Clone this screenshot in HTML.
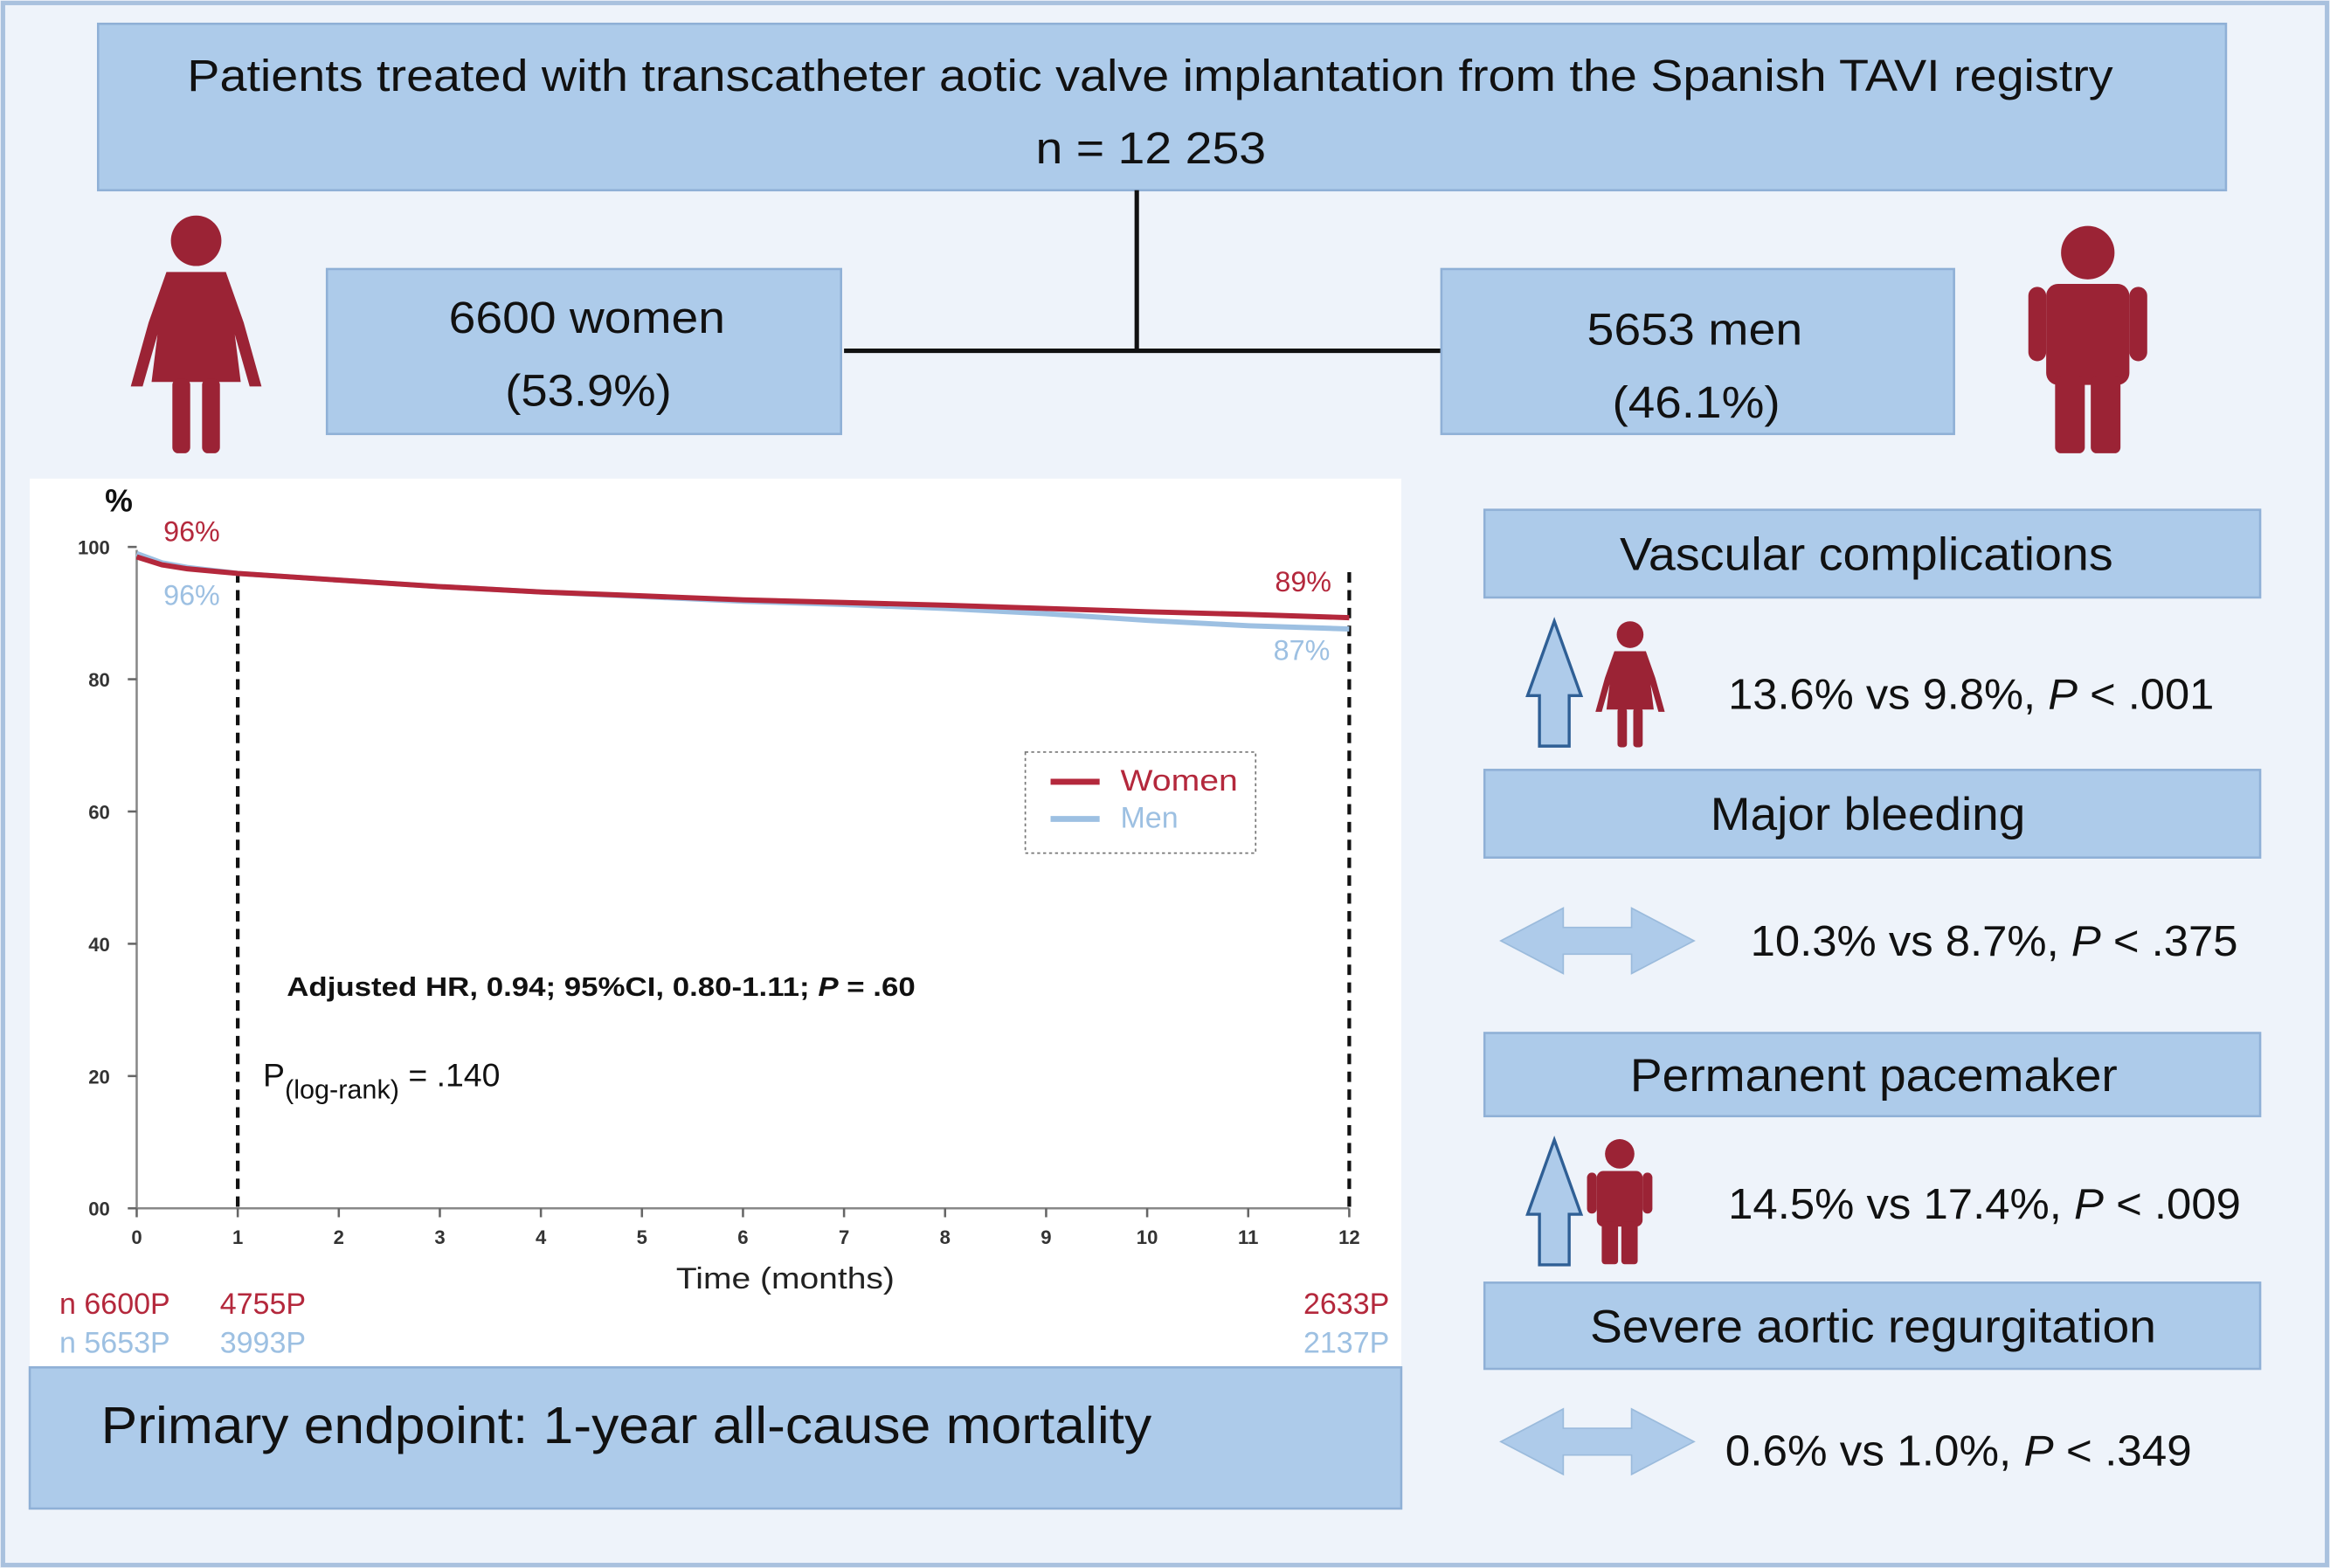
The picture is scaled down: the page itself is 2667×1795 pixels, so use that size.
<!DOCTYPE html>
<html><head><meta charset="utf-8"><style>
html,body{margin:0;padding:0;background:#eef3fa}
svg{display:block;font-family:"Liberation Sans",Arial,sans-serif}
</style></head><body>
<svg id="root" width="2667" height="1795" viewBox="0 0 1568 1055" preserveAspectRatio="none" xmlns="http://www.w3.org/2000/svg">
<rect x="0" y="0" width="1568" height="1055" fill="#eef3fa"/>
<rect x="2" y="2" width="1564" height="1051" fill="none" stroke="#a9c1de" stroke-width="3"/>
<g>
<rect x="66" y="16" width="1432" height="112" fill="#adcbea" stroke="#8fb0d6" stroke-width="1.5"/>
<text x="126" y="61" font-size="30" fill="#111" textLength="1296" lengthAdjust="spacingAndGlyphs">Patients treated with transcatheter aotic valve implantation from the Spanish TAVI registry</text>
<text x="697" y="110" font-size="30" fill="#111" textLength="155" lengthAdjust="spacingAndGlyphs">n = 12 253</text>
</g>
<g stroke="#111" stroke-width="3">
<line x1="765" y1="128" x2="765" y2="236"/><line x1="568" y1="236" x2="970" y2="236"/>
</g>
<g>
<rect x="220" y="181" width="346" height="111" fill="#adcbea" stroke="#8fb0d6" stroke-width="1.5"/>
<text x="302" y="224" font-size="30" fill="#111" textLength="186" lengthAdjust="spacingAndGlyphs">6600 women</text>
<text x="340" y="273" font-size="30" fill="#111" textLength="112" lengthAdjust="spacingAndGlyphs">(53.9%)</text>
</g>
<g>
<rect x="970" y="181" width="345" height="111" fill="#adcbea" stroke="#8fb0d6" stroke-width="1.5"/>
<text x="1068" y="232" font-size="30" fill="#111" textLength="145" lengthAdjust="spacingAndGlyphs">5653 men</text>
<text x="1085" y="281" font-size="30" fill="#111" textLength="113" lengthAdjust="spacingAndGlyphs">(46.1%)</text>
</g>
<g id="icons"></g>
<rect x="20" y="322" width="923" height="600" fill="#ffffff"/>
<g id="chart"></g>
<g>
<rect x="20" y="920" width="923" height="95" fill="#adcbea" stroke="#8fb0d6" stroke-width="1.5"/>
<text x="68" y="971" font-size="35" fill="#111" textLength="707" lengthAdjust="spacingAndGlyphs">Primary endpoint: 1-year all-cause mortality</text>
</g>
<g id="right"></g>
</svg>
<script>
const NS='http://www.w3.org/2000/svg';
function mk(tag,attrs,parent){const e=document.createElementNS(NS,tag);for(const k in attrs)e.setAttribute(k,attrs[k]);parent.appendChild(e);return e;}
// chart data
const months=[0,0.25,0.5,1,2,3,4,5,6,7,8,9,10,11,12];
const women=[98.5,97.3,96.7,96,95,94,93.2,92.6,92,91.6,91.2,90.7,90.2,89.8,89.3];
const men=[99,97.6,96.9,96,95,94,93.2,92.5,91.8,91.3,90.7,89.9,88.9,88.1,87.6];
const yTicks=[0,20,40,60,80,100];
const yTickLabels=['00','20','40','60','80','100'];
const xTicks=[0,1,2,3,4,5,6,7,8,9,10,11,12];
const atRiskWomen=['n 6600P','4755P','2633P'];
const atRiskMen=['n 5653P','3993P','2137P'];
const X=m=>92+m*(908-92)/12, Y=v=>813-v*(813-368)/100;
const ch=document.getElementById('chart');
let e;
e=mk('line',{x1:X(0),y1:Y(0),x2:X(0),y2:Y(100)+2,stroke:'#888','stroke-width':1.5},ch);

e=mk('line',{x1:X(0),y1:Y(0),x2:X(12),y2:Y(0),stroke:'#888','stroke-width':1.5},ch);

yTicks.forEach((t,i)=>{
 mk('line',{x1:X(0)-6,y1:Y(t),x2:X(0),y2:Y(t),stroke:'#666','stroke-width':1.5},ch);
 e=mk('text',{x:74,y:Y(t)+5,'font-size':13,'font-weight':'bold','text-anchor':'end',fill:'#333'},ch);e.textContent=yTickLabels[i];
 
});
xTicks.forEach(t=>{
 mk('line',{x1:X(t),y1:Y(0),x2:X(t),y2:Y(0)+6,stroke:'#666','stroke-width':1.5},ch);
 e=mk('text',{x:X(t),y:837,'font-size':13,'font-weight':'bold','text-anchor':'middle',fill:'#333'},ch);e.textContent=t;
 
});
e=mk('text',{x:80,y:344,'font-size':21,'font-weight':'bold','text-anchor':'middle',fill:'#111'},ch);e.textContent='%';

e=mk('text',{x:455,y:867,'font-size':20,textLength:147,lengthAdjust:'spacingAndGlyphs',fill:'#222'},ch);e.textContent='Time (months)';

[1,12].forEach(m=>{e=mk('line',{x1:X(m),y1:385,x2:X(m),y2:Y(0),stroke:'#111','stroke-width':2.5,'stroke-dasharray':'7,5'},ch);
 });
function series(vals,col,name){const d=months.map((m,i)=>(i?'L':'M')+X(m).toFixed(1)+','+Y(vals[i]).toFixed(1)).join(' ');
 e=mk('path',{d:d,fill:'none',stroke:col,'stroke-width':3.5},ch);}
series(men,'#9dc0e2','men-curve');series(women,'#b4283c','women-curve');
const labs=[['96%',110,364,'#b4283c'],['96%',110,407,'#9dc0e2'],['89%',858,398,'#b4283c'],['87%',857,444,'#9dc0e2']];
labs.forEach(l=>{e=mk('text',{x:l[1],y:l[2],'font-size':19,fill:l[3]},ch);e.textContent=l[0];});
const lg=mk('g',{},ch);
mk('rect',{x:690,y:506,width:155,height:68,fill:'#fff',stroke:'#777','stroke-width':1,'stroke-dasharray':'2,2'},lg);
mk('line',{x1:707,y1:526,x2:740,y2:526,stroke:'#b4283c','stroke-width':4},lg);
mk('line',{x1:707,y1:551,x2:740,y2:551,stroke:'#9dc0e2','stroke-width':4},lg);
e=mk('text',{x:754,y:532,'font-size':20,textLength:79,lengthAdjust:'spacingAndGlyphs',fill:'#b4283c'},lg);e.textContent='Women';
e=mk('text',{x:754,y:557,'font-size':20,fill:'#9dc0e2'},lg);e.textContent='Men';
e=mk('text',{x:193,y:670,'font-size':18,'font-weight':'bold',textLength:423,lengthAdjust:'spacingAndGlyphs',fill:'#111'},ch);
e.innerHTML='Adjusted HR, 0.94; 95%CI, 0.80-1.11; <tspan font-style="italic">P</tspan> = .60';

e=mk('text',{x:177,y:731,'font-size':22,fill:'#111'},ch);
e.innerHTML='P<tspan font-size="18" dy="8">(log-rank)</tspan><tspan dy="-8"> = .140</tspan>';

const arX=[40,148,935],arA=['start','start','end'];
atRiskWomen.forEach((s,i)=>{e=mk('text',{x:arX[i],y:884,'font-size':20,fill:'#b4283c','text-anchor':arA[i]},ch);e.textContent=s;});
atRiskMen.forEach((s,i)=>{e=mk('text',{x:arX[i],y:910,'font-size':20,fill:'#9dc0e2','text-anchor':arA[i]},ch);e.textContent=s;});
// icons
const RED='#9b2335';
function woman(g,x,y,s){
 mk('circle',{cx:x,cy:y+17*s,r:17*s,fill:RED},g);
 mk('path',{d:`M${x-20*s},${y+38*s} L${x+20*s},${y+38*s} L${x+32*s},${y+72*s} L${x+44*s},${y+115*s} L${x+36*s},${y+115*s} L${x+26*s},${y+80*s} L${x+30*s},${y+112*s} L${x-30*s},${y+112*s} L${x-26*s},${y+80*s} L${x-36*s},${y+115*s} L${x-44*s},${y+115*s} L${x-32*s},${y+72*s} Z`,fill:RED},g);
 mk('rect',{x:x-16*s,y:y+110*s,width:12*s,height:50*s,rx:4*s,fill:RED},g);
 mk('rect',{x:x+4*s,y:y+110*s,width:12*s,height:50*s,rx:4*s,fill:RED},g);
}
function man(g,x,y,s){
 mk('circle',{cx:x,cy:y+17*s,r:18*s,fill:RED},g);
 mk('rect',{x:x-28*s,y:y+38*s,width:56*s,height:68*s,rx:8*s,fill:RED},g);
 mk('rect',{x:x-40*s,y:y+40*s,width:12*s,height:50*s,rx:6*s,fill:RED},g);
 mk('rect',{x:x+28*s,y:y+40*s,width:12*s,height:50*s,rx:6*s,fill:RED},g);
 mk('rect',{x:x-22*s,y:y+100*s,width:20*s,height:52*s,rx:4*s,fill:RED},g);
 mk('rect',{x:x+2*s,y:y+100*s,width:20*s,height:52*s,rx:4*s,fill:RED},g);
}
const ic=document.getElementById('icons');
let g=mk('g',{},ic);woman(g,132,145,1);
g=mk('g',{},ic);man(g,1405,153,1);
// right panel
const rp=document.getElementById('right');
const boxes=[['Vascular complications',343,402,1090,332],['Major bleeding',518,577,1151,212],['Permanent pacemaker',695,751,1097,328],['Severe aortic regurgitation',863,921,1070,381]];
boxes.forEach(b=>{g=mk('g',{},rp);
 mk('rect',{x:999,y:b[1],width:522,height:b[2]-b[1],fill:'#adcbea',stroke:'#8fb0d6','stroke-width':1.5},g);
 e=mk('text',{x:b[3],y:(b[1]+b[2])/2+11,'font-size':31,textLength:b[4],lengthAdjust:'spacingAndGlyphs',fill:'#111'},g);e.textContent=b[0];});
const stats=[['13.6% vs 9.8%, ','.001',1163,477,327],['10.3% vs 8.7%, ','.375',1178,643,328],['14.5% vs 17.4%, ','.009',1163,820,345],['0.6% vs 1.0%, ','.349',1161,986,314]];
stats.forEach(s=>{e=mk('text',{x:s[2],y:s[3],'font-size':29,textLength:s[4],lengthAdjust:'spacingAndGlyphs',fill:'#111'},rp);
 e.innerHTML=s[0]+'<tspan font-style="italic">P</tspan> &lt;  '+s[1];
 });
function upArrow(y){e=mk('path',{d:`M1046,${y} L1064,${y+50} L1056,${y+50} L1056,${y+84} L1036,${y+84} L1036,${y+50} L1028,${y+50} Z`,fill:'#aecbea',stroke:'#2f5f95','stroke-width':2},rp);
 }
function dblArrow(y){e=mk('path',{d:`M1010,${y} L1052,${y-22} L1052,${y-9} L1098,${y-9} L1098,${y-22} L1140,${y} L1098,${y+22} L1098,${y+9} L1052,${y+9} L1052,${y+22} Z`,fill:'#aecbea',stroke:'#9bbbdc','stroke-width':1},rp);
 }
upArrow(418);upArrow(767);dblArrow(633);dblArrow(970);
g=mk('g',{},rp);woman(g,1097,418,0.53);
g=mk('g',{},rp);man(g,1090,767,0.55);
</script>
</body></html>
